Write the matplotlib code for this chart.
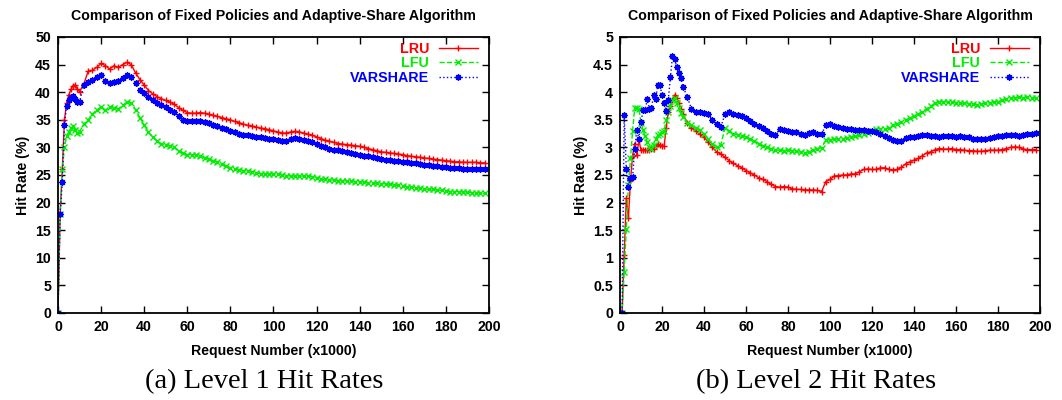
import matplotlib
matplotlib.use("Agg")
import matplotlib.pyplot as plt

plt.rcParams['font.family'] = ['Liberation Sans', 'DejaVu Sans']
plt.rcParams['font.weight'] = 'bold'

# --- data (request number in thousands, hit rate in %) ---
x_l1 = list(range(0, 11)) + list(range(12, 200, 2))
lru_l1 = [0, 18, 26, 35, 38, 39.5, 40.5, 41.2, 41.3, 40.5, 40.1,
          41.5, 43.8, 44.0, 44.5, 45.2, 44.8, 44.2, 44.8, 44.5, 45.0,
          45.4, 45.0, 43.5, 42.3, 41.3, 40.3, 39.7, 39.2, 38.8, 38.5,
          38.2, 37.8, 37.2, 36.7, 36.3, 36.2, 36.2, 36.3, 36.2, 36.0,
          35.8, 35.6, 35.4, 35.2, 35.0, 34.7, 34.5, 34.2, 34.0, 33.9,
          33.7, 33.5, 33.4, 33.2, 33.0, 32.8, 32.6, 32.6, 32.8, 32.9,
          32.8, 32.6, 32.4, 32.2, 31.9, 31.6, 31.3, 31.1, 30.9, 30.7,
          30.6, 30.5, 30.4, 30.3, 30.2, 30.0, 29.8, 29.6, 29.4, 29.2,
          29.1, 29.0, 28.9, 28.8, 28.7, 28.5, 28.4, 28.3, 28.2, 28.1,
          28.0, 27.9, 27.8, 27.7, 27.6, 27.5, 27.4, 27.4, 27.3, 27.3,
          27.3, 27.3, 27.2, 27.2]
lfu_l1 = [0, 18, 26, 30, 32, 32.8, 33.5, 33.8, 33.2, 32.6, 32.8,
          34.3, 35.0, 36.0, 36.8, 37.3, 36.7, 37.3, 37.1, 37.0, 37.6,
          38.2, 38.0, 36.8, 35.4, 34.0, 32.8, 31.8, 31.2, 30.6, 30.4,
          30.3, 30.0, 29.3, 28.9, 28.7, 28.7, 28.7, 28.5, 28.1, 27.9,
          27.6, 27.3, 27.0, 26.6, 26.2, 26.0, 25.9, 25.8, 25.7, 25.5,
          25.4, 25.2, 25.2, 25.2, 25.2, 25.1, 25.0, 24.9, 24.8, 24.8,
          24.8, 24.8, 24.8, 24.7, 24.5, 24.3, 24.2, 24.1, 24.1, 24.0,
          24.0, 23.9, 23.9, 23.8, 23.8, 23.7, 23.6, 23.5, 23.5, 23.4,
          23.4, 23.3, 23.2, 23.1, 23.0, 22.9, 22.8, 22.7, 22.6, 22.5,
          22.4, 22.4, 22.3, 22.2, 22.1, 22.0, 22.0, 22.0, 21.9, 21.9,
          21.8, 21.8, 21.7, 21.7]
var_l1 = [0, 18, 23.7, 34, 37.5, 38.6, 39.2, 39.3, 38.8, 38.2, 38.3,
          41.3, 41.9, 42.3, 42.8, 43.1, 42.0, 41.7, 41.8, 42.0, 42.5,
          43.1, 42.8, 41.6, 40.4, 39.8, 39.2, 38.6, 38.1, 37.7, 37.3,
          36.8, 36.4, 35.6, 35.0, 34.8, 34.7, 34.7, 34.8, 34.6, 34.4,
          34.1, 33.8, 33.5, 33.3, 33.0, 32.7, 32.5, 32.3, 32.2, 32.1,
          31.9, 31.8, 31.7, 31.6, 31.5, 31.3, 31.2, 31.2, 31.5, 31.7,
          31.6, 31.3, 31.1, 30.9, 30.6, 30.3, 30.0, 29.8, 29.6, 29.5,
          29.3, 29.2, 29.0, 28.8, 28.7, 28.5, 28.4, 28.2, 28.0, 27.9,
          27.8, 27.7, 27.6, 27.5, 27.4, 27.3, 27.2, 27.1, 27.0, 26.9,
          26.8, 26.7, 26.6, 26.5, 26.4, 26.3, 26.2, 26.2, 26.1, 26.1,
          26.1, 26.1, 26.0, 26.0]

x_l2 = list(range(0, 31)) + list(range(32, 200, 2))
lru_l2 = [0, 0, 1.05, 2.08, 1.72, 2.4, 2.85, 3.07, 2.86, 3.13,
          2.95, 2.96, 2.96, 2.96, 2.96, 2.97, 2.98, 3.02, 3.06, 3.04,
          3.02, 3.02, 3.35, 3.65, 3.75, 3.85, 3.95, 3.9, 3.8, 3.7, 3.6,
          3.45, 3.35, 3.3, 3.24, 3.18, 3.1, 3.0, 2.92, 2.88, 2.82,
          2.76, 2.71, 2.67, 2.63, 2.58, 2.54, 2.5, 2.45, 2.42, 2.38,
          2.33, 2.29, 2.28, 2.29, 2.28, 2.25, 2.24, 2.24, 2.23, 2.23,
          2.23, 2.22, 2.2, 2.38, 2.42, 2.48, 2.49, 2.5, 2.5, 2.52,
          2.52, 2.56, 2.6, 2.61, 2.6, 2.6, 2.63, 2.63, 2.6, 2.59,
          2.6, 2.64, 2.7, 2.74, 2.77, 2.8, 2.85, 2.9, 2.92, 2.96,
          2.98, 2.97, 2.97, 2.98, 2.96, 2.96, 2.95, 2.94, 2.94, 2.93,
          2.93, 2.94, 2.95, 2.95, 2.95, 2.96, 2.98, 3.0, 3.01, 3.0,
          2.97, 2.96, 2.96, 2.96]
lfu_l2 = [0, 0, 0.75, 1.52, 2.32, 2.8, 3.3, 3.72, 3.72, 3.7,
          3.45, 3.31, 3.2, 3.1, 3.0, 2.97, 3.05, 3.15, 3.22, 3.25,
          3.28, 3.3, 3.5, 3.65, 3.75, 3.85, 3.9, 3.8, 3.72, 3.62, 3.55,
          3.45, 3.4, 3.36, 3.32, 3.25, 3.15, 3.07, 3.01, 3.05, 3.35,
          3.3, 3.25, 3.22, 3.2, 3.19, 3.15, 3.11, 3.07, 3.03, 3.0,
          2.97, 2.95, 2.95, 2.94, 2.95, 2.94, 2.93, 2.91, 2.9, 2.92,
          2.95, 2.98, 2.99, 3.13, 3.14, 3.15, 3.15, 3.16, 3.17, 3.18,
          3.2, 3.22, 3.24, 3.26, 3.3, 3.34, 3.34, 3.33, 3.35, 3.4,
          3.43, 3.46, 3.5, 3.53, 3.57, 3.6, 3.65, 3.7, 3.75, 3.8,
          3.82, 3.83, 3.82, 3.82, 3.81, 3.8, 3.8, 3.79, 3.78, 3.77,
          3.78, 3.8, 3.81, 3.82, 3.83, 3.85, 3.87, 3.89, 3.9, 3.91,
          3.9, 3.91, 3.9, 3.89]
var_l2 = [0, 0, 3.59, 2.6, 2.29, 2.44, 2.46, 2.98, 3.31, 3.16,
          3.46, 3.68, 3.68, 3.87, 3.7, 3.72, 3.95, 3.88, 4.13, 4.13,
          3.95, 3.8, 3.66, 3.86, 4.27, 4.65, 4.6, 4.46, 4.34, 4.25, 4.1,
          3.92, 3.7, 3.65, 3.65, 3.63, 3.6, 3.5, 3.42, 3.37, 3.6,
          3.64, 3.6, 3.58, 3.56, 3.53, 3.48, 3.42, 3.38, 3.35, 3.3,
          3.25, 3.22, 3.33, 3.32, 3.3, 3.28, 3.28, 3.24, 3.22, 3.26,
          3.27, 3.24, 3.24, 3.4, 3.42, 3.38, 3.37, 3.36, 3.34, 3.33,
          3.32, 3.31, 3.32, 3.3, 3.29, 3.27, 3.24, 3.2, 3.17, 3.14,
          3.12, 3.12, 3.17, 3.18, 3.19, 3.2, 3.22, 3.22, 3.2, 3.2,
          3.19, 3.2, 3.2, 3.2, 3.19, 3.2, 3.19, 3.18, 3.16, 3.15,
          3.15, 3.16, 3.17, 3.18, 3.2, 3.21, 3.22, 3.23, 3.22, 3.21,
          3.22, 3.24, 3.25, 3.26]

series_names = ["LRU", "LFU", "VARSHARE"]
title = "Comparison of Fixed Policies and Adaptive-Share Algorithm"
captions = ["(a) Level 1 Hit Rates", "(b) Level 2 Hit Rates"]

styles = [dict(color="#ff0000", ls="-", marker="+"),
          dict(color="#00ee00", ls="--", marker="x"),
          dict(color="#0000ff", ls=":", marker=(8, 2, 0))]

fig = plt.figure(figsize=(10.62, 4.0), dpi=100)
ax1 = fig.add_axes([0.0546, 0.2175, 0.4058, 0.69])
ax2 = fig.add_axes([0.5838, 0.2175, 0.3955, 0.69])

panels = [(ax1, x_l1, [lru_l1, lfu_l1, var_l1], 50, 5),
          (ax2, x_l2, [lru_l2, lfu_l2, var_l2], 5, 0.5)]

for ax, xs, ys, ymax, ystep in panels:
    for name, y, st in zip(series_names, ys, styles):
        ax.plot(xs, y, label=name, color=st["color"], linestyle=st["ls"],
                marker=st["marker"], markersize=4.5, markeredgewidth=1.0,
                linewidth=1.0)
    ax.set_xlim(0, 200)
    ax.set_ylim(0, ymax)
    ax.set_xticks(range(0, 201, 20))
    yt = [i * ystep for i in range(11)]
    ax.set_yticks(yt)
    if ystep < 1:
        ax.set_yticklabels([("%g" % v) for v in yt])
    ax.tick_params(direction="in", top=True, right=True, length=5,
                   width=1, labelsize=10.2, pad=5)
    for s in ax.spines.values():
        s.set_linewidth(1.3)
    ax.set_title(title, fontsize=10.2, fontweight="bold", pad=12)
    ax.set_xlabel("Request Number (x1000)", fontsize=10.2, fontweight="bold",
                  labelpad=7)
    ax.set_ylabel("Hit Rate (%)", fontsize=10.2, fontweight="bold")
    leg = ax.legend(loc="upper right", bbox_to_anchor=(0.992, 1.012),
                    frameon=False, markerfirst=False, labelcolor="linecolor",
                    handlelength=2.7, handletextpad=0.7, labelspacing=0.05,
                    borderaxespad=0.15, prop={"size": 10.3, "weight": "bold"})

fig.text(0.249, 0.045, captions[0], ha="center", va="center", fontsize=20.5,
         family="Liberation Serif", fontweight="normal")
fig.text(0.768, 0.045, captions[1], ha="center", va="center", fontsize=20.5,
         family="Liberation Serif", fontweight="normal")

fig.savefig("out.png", dpi=100)
